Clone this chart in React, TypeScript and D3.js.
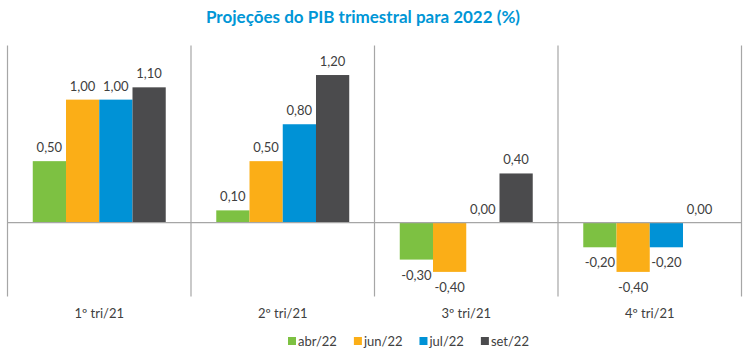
import React, { useEffect, useRef } from "react";
import * as d3 from "d3";

const categories = ["1º tri/21", "2º tri/21", "3º tri/21", "4º tri/21"];
const seriesNames = ["abr/22", "jun/22", "jul/22", "set/22"];
const abr22 = [0.5, 0.1, -0.3, -0.2];
const jun22 = [1.0, 0.5, -0.4, -0.4];
const jul22 = [1.0, 0.8, 0.0, -0.2];
const set22 = [1.1, 1.2, 0.4, 0.0];
const colors = ["#7DC142", "#FBAE17", "#0092D6", "#4B4B4D"];
const title = "Projeções do PIB trimestral para 2022 (%)";

const W = 750;
const H = 355;
const FONT = "Lato, 'Open Sans', sans-serif";

export default function App() {
  const ref = useRef<SVGSVGElement>(null);

  useEffect(() => {
    const svg = d3.select(ref.current);
    svg.selectAll("*").remove();
    const values = [abr22, jun22, jul22, set22];

    const x0 = d3.scaleBand<string>().domain(categories).range([7.5, 741.5]).padding(0);
    const x1 = d3
      .scaleBand<string>()
      .domain(seriesNames)
      .range([0, x0.bandwidth()])
      .paddingInner(0)
      .paddingOuter(0.76);
    const y = d3.scaleLinear().domain([-0.6, 1.44]).range([296.5, 45.5]);

    // title
    svg
      .append("text")
      .attr("x", 363)
      .attr("y", 23)
      .attr("text-anchor", "middle")
      .attr("font-family", FONT)
      .attr("font-weight", "bold")
      .attr("font-size", 17)
      .attr("fill", "#0096D6")
      .text(title);

    // separators
    const bounds = [...categories.map((c) => x0(c) as number), 741.5];
    svg
      .selectAll("line.sep")
      .data(bounds)
      .join("line")
      .attr("class", "sep")
      .attr("x1", (d) => d)
      .attr("x2", (d) => d)
      .attr("y1", y.range()[1])
      .attr("y2", y.range()[0])
      .attr("stroke", "#A6A6A6")
      .attr("stroke-width", 1.2);

    // bars
    const g = svg.append("g");
    categories.forEach((cat, ci) => {
      seriesNames.forEach((s, si) => {
        const v = values[si][ci];
        const bx = (x0(cat) as number) + (x1(s) as number);
        const bw = x1.bandwidth();
        if (v !== 0) {
          g.append("rect")
            .attr("x", bx)
            .attr("width", bw)
            .attr("y", Math.min(y(v), y(0)))
            .attr("height", Math.abs(y(v) - y(0)))
            .attr("fill", colors[si]);
        }
        const lbl = d3.format(".2f")(v).replace(".", ",").replace("\u2212", "-");
        const ly = v >= 0 ? y(v) - 9 : y(v) + 20;
        g.append("text")
          .attr("x", bx + bw / 2)
          .attr("y", ly)
          .attr("text-anchor", "middle")
          .attr("font-family", FONT)
          .attr("font-size", 13)
          .attr("fill", "#404040")
          .text(lbl);
      });
    });

    // zero line
    svg
      .append("line")
      .attr("x1", 7.5)
      .attr("x2", 741.5)
      .attr("y1", y(0))
      .attr("y2", y(0))
      .attr("stroke", "#A6A6A6")
      .attr("stroke-width", 1.2);

    // category labels
    svg
      .selectAll("text.cat")
      .data(categories)
      .join("text")
      .attr("class", "cat")
      .attr("x", (d) => (x0(d) as number) + x0.bandwidth() / 2)
      .attr("y", 318)
      .attr("text-anchor", "middle")
      .attr("font-family", FONT)
      .attr("font-size", 13)
      .attr("fill", "#404040")
      .text((d) => d);

    // legend
    const lg = svg.append("g");
    let cx = 288;
    seriesNames.forEach((s, i) => {
      lg.append("rect")
        .attr("x", cx)
        .attr("y", 337)
        .attr("width", 8)
        .attr("height", 8)
        .attr("fill", colors[i]);
      const t = lg
        .append("text")
        .attr("x", cx + 10)
        .attr("y", 346)
        .attr("font-family", FONT)
        .attr("font-size", 13)
        .attr("fill", "#404040")
        .text(s);
      const tw = (t.node() as SVGTextElement).getComputedTextLength();
      cx += 10 + tw + 17;
    });
  }, []);

  return (
    <svg
      ref={ref}
      width={W}
      height={H}
      style={{ position: "absolute", left: 0, top: 0, background: "#fff" }}
    />
  );
}
